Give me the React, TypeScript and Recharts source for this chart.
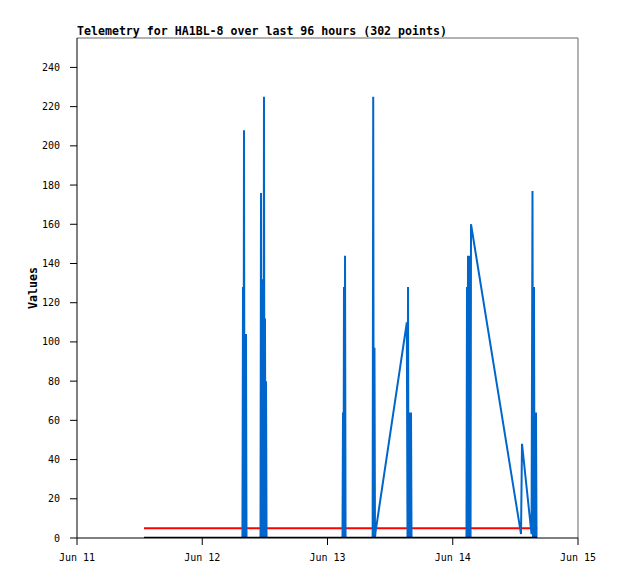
import React from 'react';
import { LineChart, Line, XAxis, YAxis, ReferenceLine } from 'recharts';

const xTickHours = [0, 24, 48, 72, 96];
const xTickLabels = ['Jun 11', 'Jun 12', 'Jun 13', 'Jun 14', 'Jun 15'];
const yTicks = [0, 20, 40, 60, 80, 100, 120, 140, 160, 180, 200, 220, 240];

// hours since Jun 11 00:00
const blueHours = [
  12.84,
  31.7, 31.81, 31.9, 32.0, 32.1, 32.19, 32.29, 32.38, 32.48,
  35.16, 35.26, 35.35, 35.45, 35.55, 35.64, 35.73, 35.83, 35.92, 36.02, 36.12, 36.22, 36.32,
  50.87, 50.97, 51.06, 51.16, 51.26, 51.36, 51.46,
  56.65, 56.76, 56.86, 57.0, 57.1, 57.2,
  63.2, 63.33, 63.43, 63.53, 63.62, 63.72, 63.81, 63.91, 64.0, 64.1,
  74.63, 74.73, 74.83, 74.92, 75.02, 75.11, 75.21, 75.31, 75.41, 75.5,
  85.08, 85.27, 87.1, 87.28, 87.38, 87.57, 87.67, 87.76, 87.86, 87.95, 88.05, 88.15,
];
const blueValues = [
  0,
  0, 128, 0, 208, 0, 104, 0, 104, 0,
  0, 176, 0, 132, 0, 132, 0, 225, 0, 112, 0, 80, 0,
  0, 64, 0, 128, 0, 144, 0,
  0, 225, 0, 97, 0, 3,
  110, 0, 128, 0, 64, 0, 64, 0, 64, 0,
  0, 128, 0, 144, 0, 144, 0, 144, 0, 160,
  2, 48, 2, 177, 0, 128, 0, 64, 0, 64, 0, 0,
];
const redHours = [12.84, 88.2];
const redValues = [5, 5];
const blackHours = [12.84, 88.15];
const blackValues = [0, 0];

const tickFont = { fill: '#000', fontSize: 10, fontFamily: 'DejaVu Sans Mono' };

export default function App() {
  const blue = blueHours.map((t, i) => ({ t, v: blueValues[i] }));
  const red = redHours.map((t, i) => ({ t, v: redValues[i] }));
  const black = blackHours.map((t, i) => ({ t, v: blackValues[i] }));
  return (
    <div style={{ position: 'fixed', left: 0, top: 0, width: 618, height: 579, background: '#fff' }}>
      <LineChart width={618} height={579} margin={{ top: 38, right: 40, bottom: 0, left: 17 }}>
        <XAxis
          type="number"
          dataKey="t"
          domain={[0, 96]}
          ticks={xTickHours}
          interval={0}
          tickFormatter={(v: number) => xTickLabels[xTickHours.indexOf(v)]}
          height={41}
          tickSize={7}
          tickMargin={9}
          stroke="#000"
          tick={tickFont}
          allowDataOverflow
        />
        <YAxis
          type="number"
          domain={[0, 255]}
          ticks={yTicks}
          interval={0}
          width={60}
          tickSize={7}
          tickMargin={10}
          stroke="#000"
          tick={tickFont}
          allowDataOverflow
        />
        <ReferenceLine y={255} stroke="#666" strokeWidth={1} />
        <ReferenceLine x={96} stroke="#666" strokeWidth={1} />
        <Line data={red} dataKey="v" type="linear" stroke="#ff0000" strokeWidth={2} dot={false} activeDot={false} isAnimationActive={false} />
        <Line data={blue} dataKey="v" type="linear" stroke="#0066cc" strokeWidth={2} dot={false} activeDot={false} isAnimationActive={false} />
        <Line data={black} dataKey="v" type="linear" stroke="#000000" strokeWidth={2.5} dot={false} activeDot={false} isAnimationActive={false} />
      </LineChart>
      <svg width={618} height={579} style={{ position: 'absolute', left: 0, top: 0, pointerEvents: 'none' }}>
        <text x={77} y={35} fontFamily="DejaVu Sans Mono" fontWeight="bold" fontSize={11.6} fill="#000">
          Telemetry for HA1BL-8 over last 96 hours (302 points)
        </text>
        <text
          x={0}
          y={0}
          transform="translate(36.5,288) rotate(-90)"
          textAnchor="middle"
          fontFamily="DejaVu Sans Mono"
          fontWeight="bold"
          fontSize={11.6}
          fill="#000"
        >
          Values
        </text>
      </svg>
    </div>
  );
}
